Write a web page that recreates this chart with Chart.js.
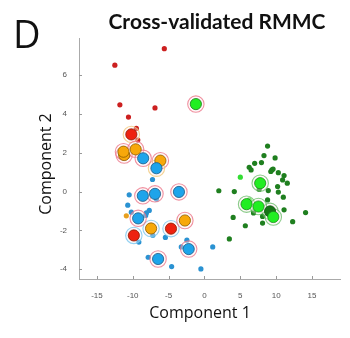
<!DOCTYPE html>
<html>
<head>
<meta charset="utf-8">
<script src="https://cdn.jsdelivr.net/npm/chart.js@4.4.0/dist/chart.umd.min.js"></script>
<style>
  html, body { margin: 0; padding: 0; background: #fff; }
  #wrap { width: 350px; height: 338px; }
</style>
</head>
<body>
<div id="wrap"><canvas id="c"></canvas></div>
<script>
// tick labels
const xTicks = [-15, -10, -5, 0, 5, 10, 15];
const yTicks = [-4, -2, 0, 2, 4, 6];

// small dots [component1, component2]
const smallRed = [[-5.6, 7.35], [-12.5, 6.5], [-11.8, 4.46], [-6.9, 4.3], [-10.6, 3.83], [-9.5, 3.25], [-9.3, 2.65]];
const smallBlue = [[-7.25, 0.62], [-6.7, -0.39], [-10.5, -0.17], [-10.7, -0.7], [-10.2, -1.06], [-8.1, -1.1],
  [-7.7, -0.97], [-8.2, -1.23], [-7.2, -2.25], [-9.15, -2.6], [-5.45, -2.36], [-2.45, -2.5], [-3.23, -2.85],
  [-7.85, -3.38], [-4.58, -3.86], [-0.5, -3.98], [1.15, -2.85]];
const smallOrange = [[-10.9, -1.25]];
const smallDarkGreen = [[8.8, 2.34], [8.3, 1.85], [9.85, 1.73], [7.0, 1.45], [7.95, 1.49], [6.24, 1.25], [6.5, 1.11],
  [9.4, 1.11], [9.57, 1.16], [9.25, 1.03], [10.3, 0.97], [11.1, 0.82], [10.9, 0.6], [11.55, 0.43], [10.2, 0.26],
  [10.3, -0.03], [11.0, -0.29], [8.9, 0.05], [4.16, 0], [2.0, 0.04], [7.63, 0.12], [6.84, -1.1], [8.8, -0.43],
  [11.1, -0.94], [14.1, -1.08], [8.1, -1.28], [8.1, -1.62], [4.0, -1.33], [5.7, -1.76], [12.3, -1.55], [3.47, -2.44]];
const smallLime = [[5.0, 0.74], [6.24, -0.43]];

// large circles, grouped by ring colour
const bigBluePink = [[-8.55, 1.71], [-8.6, -0.22], [-6.9, -0.12], [-3.56, -0.02], [-9.25, -1.38], [-2.2, -2.96], [-6.47, -3.47]];
const bigBlueGold = [[-6.7, 1.2]];
const bigOrangePink = [[-11.2, 1.88], [-11.3, 2.05], [-9.6, 2.17], [-6.15, 1.59], [-2.73, -1.49]];
const bigOrangeSky = [[-7.45, -1.9]];
const bigRedGold = [[-10.2, 2.94]];
const bigRedSky = [[-9.85, -2.26], [-4.67, -1.91]];
const bigLimePink = [[-1.2, 4.5]];
const bigLimeGreen = [[7.77, 0.43], [5.87, -0.65], [7.53, -0.77], [9.6, -1.31]];
const bigDarkGreen = [[9.15, -1.02]];

const pts = arr => arr.map(p => ({ x: p[0], y: p[1] }));

const BLUE = '#1ea4ea', ORANGE = '#f7a80a', RED = '#ee2210', LIME = '#22ee22', DKGREEN = '#167516';
const PINK = 'rgba(235,110,130,0.75)', GOLD = 'rgba(240,200,120,0.8)', SKY = 'rgba(120,200,240,0.8)', GRN = 'rgba(60,170,60,0.6)';

// lower order draws on top
function small(data, color) {
  return { data: pts(data), backgroundColor: color, borderColor: color, pointRadius: 2.6, borderWidth: 0, order: 3 };
}
function ring(data, color) {
  return { data: pts(data), backgroundColor: 'rgba(255,235,238,0.35)', borderColor: color, pointRadius: 8.2, borderWidth: 1.1, order: 2 };
}
function big(data, color, edge) {
  return { data: pts(data), backgroundColor: color, borderColor: edge, pointRadius: 5.6, borderWidth: 0.8, order: 1 };
}

const datasets = [
  small(smallRed, '#cc2020'),
  small(smallBlue, '#2a92d2'),
  small(smallOrange, '#e8a020'),
  small(smallDarkGreen, '#1f7f1f'),
  small(smallLime, '#33dd33'),
  ring(bigBluePink, PINK), ring(bigBlueGold, GOLD), ring(bigOrangePink, PINK), ring(bigOrangeSky, SKY),
  ring(bigRedGold, GOLD), ring(bigRedSky, SKY), ring(bigLimePink, PINK), ring(bigLimeGreen, GRN), ring(bigDarkGreen, GRN),
  big(bigBluePink, BLUE, '#1a5a85'), big(bigBlueGold, BLUE, '#1a5a85'),
  big(bigOrangePink, ORANGE, '#8a5a00'), big(bigOrangeSky, ORANGE, '#8a5a00'),
  big(bigRedGold, RED, '#8a1a00'), big(bigRedSky, RED, '#8a1a00'),
  big(bigLimePink, LIME, '#1a7a1a'), big(bigLimeGreen, LIME, '#1a8a1a'), big(bigDarkGreen, DKGREEN, '#0d4d0d')
];

const decor = {
  id: 'decor',
  afterDraw(chart) {
    const ctx = chart.ctx, x = chart.scales.x, y = chart.scales.y;
    ctx.save();
    // inside tick marks
    ctx.strokeStyle = '#999';
    ctx.lineWidth = 1;
    xTicks.forEach(v => {
      const px = Math.round(x.getPixelForValue(v)) + 0.5;
      ctx.beginPath(); ctx.moveTo(px, y.bottom); ctx.lineTo(px, y.bottom - 3); ctx.stroke();
    });
    yTicks.forEach(v => {
      const py = Math.round(y.getPixelForValue(v)) + 0.5;
      ctx.beginPath(); ctx.moveTo(x.left, py); ctx.lineTo(x.left + 3, py); ctx.stroke();
    });
    ctx.fillStyle = '#111';
    ctx.textBaseline = 'middle';
    ctx.textAlign = 'left';
    ctx.font = '38px "Open Sans", sans-serif';
    ctx.fillText('D', 13, 37);
    ctx.textAlign = 'center';
    let fs = 18;
    ctx.font = 'bold ' + fs + 'px Lato, sans-serif';
    fs = fs * 217 / ctx.measureText('Cross-validated RMMC').width;
    ctx.font = 'bold ' + fs + 'px Lato, sans-serif';
    ctx.fillText('Cross-validated RMMC', 217, 22);
    ctx.font = '16px "Open Sans", sans-serif';
    ctx.fillText('Component 1', 200, 313);
    ctx.translate(46, 164);
    ctx.rotate(-Math.PI / 2);
    ctx.fillText('Component 2', 0, 0);
    ctx.restore();
  }
};

new Chart(document.getElementById('c'), {
  type: 'scatter',
  data: { datasets },
  options: {
    responsive: true,
    maintainAspectRatio: false,
    animation: false,
    layout: { padding: { left: 59, right: 7, top: 38, bottom: 39 } },
    plugins: { legend: { display: false }, tooltip: { enabled: false } },
    scales: {
      x: {
        type: 'linear', min: -17.5, max: 19,
        afterBuildTicks: s => { s.ticks = xTicks.map(v => ({ value: v })); },
        afterFit: s => { s.height = 20; },
        grid: { display: false },
        border: { color: '#aaa', width: 1 },
        ticks: { color: '#555', font: { size: 8, family: 'Liberation Sans' }, padding: 4, maxRotation: 0 }
      },
      y: {
        type: 'linear', min: -4.5, max: 7.9,
        afterBuildTicks: s => { s.ticks = yTicks.map(v => ({ value: v })); },
        afterFit: s => { s.width = 20; },
        grid: { display: false },
        border: { color: '#aaa', width: 1 },
        ticks: { color: '#555', font: { size: 8, family: 'Liberation Sans' }, padding: 4 }
      }
    }
  },
  plugins: [decor]
});
</script>
</body>
</html>
